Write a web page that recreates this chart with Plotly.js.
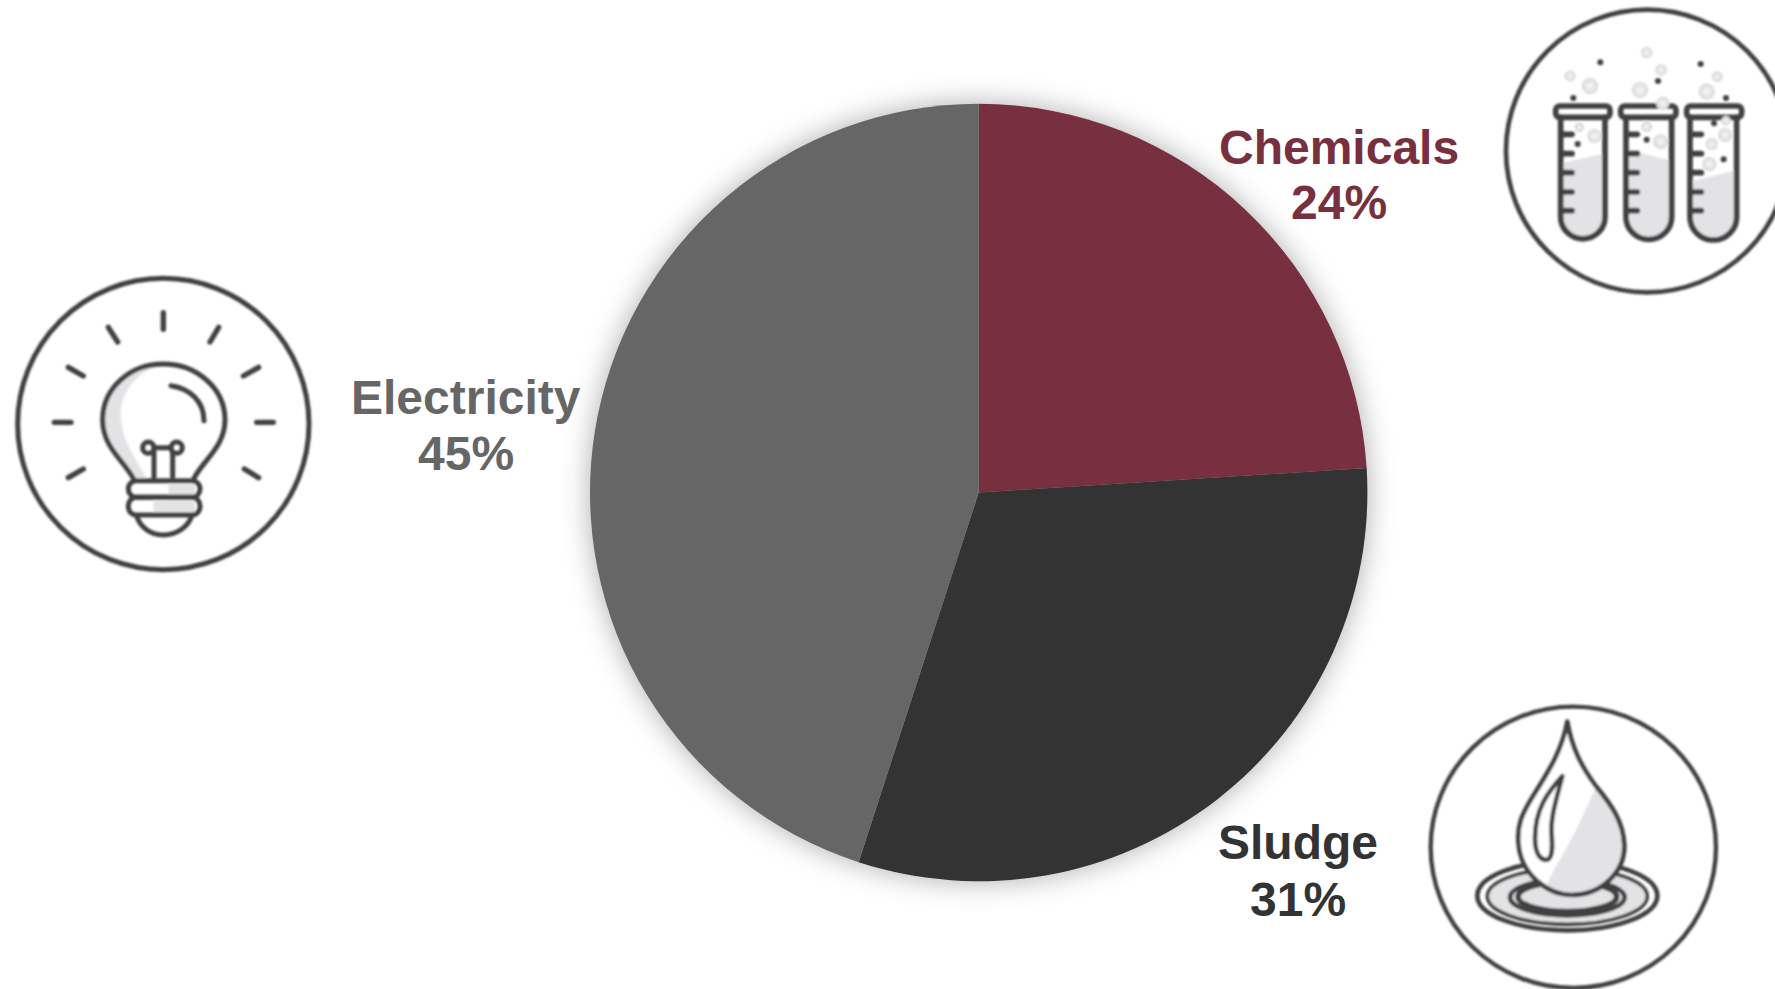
<!DOCTYPE html>
<html>
<head>
<meta charset="utf-8">
<script src="https://cdn.plot.ly/plotly-3.0.1.min.js"></script>
<style>
html, body { margin: 0; padding: 0; background: #fff; overflow: hidden; }
#chart { width: 1775px; height: 989px; }
.pielayer { filter: drop-shadow(0 0 14px rgba(0,0,0,0.32)); }
</style>
</head>
<body>
<div id="chart"></div>
<script>
// Share of treatment operating cost by category
const categories = ['Chemicals', 'Sludge', 'Electricity'];
const shares = [24, 31, 45];
const sliceColors = ['#782F40', '#333333', '#666666'];

const W = 1775, H = 989;
const px = x => x / W;
const py = y => 1 - y / H;

// Label anchors: horizontal centre and the middle of each of the two text lines
const labelCentreX = [1338.5, 1297.5, 466];
const labelNameY = [147.5, 842, 397];
const labelValueY = [203, 899, 453];

const INK = '#404040';
const TINT = '#e3e3e6';

function svgUri(w, h, body) {
  const svg = `<svg xmlns="http://www.w3.org/2000/svg" width="${w}" height="${h}" viewBox="0 0 ${w} ${h}">` +
    `<defs><filter id="s" x="-5%" y="-5%" width="110%" height="110%"><feGaussianBlur stdDeviation="2.4"/></filter></defs>` +
    `<g filter="url(#s)" fill="none" stroke="${INK}" stroke-linecap="round" stroke-linejoin="round">${body}</g></svg>`;
  return 'data:image/svg+xml;charset=utf-8,' + encodeURIComponent(svg);
}

// Light bulb icon
const rays = [[490,158,490,208],[325,202,353,246],[205,322,250,348],[163,487,213,487],[205,653,250,627],
  [656,202,630,246],[776,322,730,348],[770,487,820,487],[776,653,733,627]]
  .map(r => `<line x1="${r[0]}" y1="${r[1]}" x2="${r[2]}" y2="${r[3]}"/>`).join('');
const bulbIcon = `
  <circle cx="490" cy="492" r="437" stroke-width="15"/>
  <g stroke-width="16">${rays}</g>
  <path d="M400 655C370 600 308 560 308 480C308 385 390 312 490 312C420 330 360 390 362 470C365 540 410 600 440 655Z" fill="${TINT}" stroke="none"/>
  <path d="M505 672H585V708H505ZM460 722H585V758H460Z" fill="${TINT}" stroke="none"/>
  <g stroke-width="15">
    <path d="M400 655C370 600 308 560 308 480C308 385 390 312 490 312C590 312 675 385 675 480C675 560 610 600 582 655"/>
    <path d="M513 377C570 385 612 425 612 482"/>
    <path d="M462 650V575M518 650V575"/>
    <circle cx="445" cy="563" r="17"/><circle cx="530" cy="563" r="17"/>
    <path d="M462 563H513"/>
    <rect x="385" y="662" width="215" height="50" rx="24"/>
    <rect x="385" y="712" width="215" height="53" rx="24"/>
    <path d="M410 768C420 800 450 825 490 825C530 825 565 800 575 768"/>
  </g>`;

// Test tubes icon
function tube(lipX, lipW, left, right, fillL, fillR) {
  const r = (right - left) / 2;
  const ticks = [403, 461, 518, 576, 632].map(y => `<line x1="${left + 4}" y1="${y}" x2="${left + 34}" y2="${y}"/>`).join('');
  return `<path d="M${left} ${fillL}L${right} ${fillR}V650A${r} ${r} 0 0 1 ${left} 650Z" fill="${TINT}" stroke="none"/>
    <g stroke-width="17">
      <path d="M${left} 352V650A${r} ${r} 0 0 0 ${right} 650V352"/>
      <rect x="${lipX}" y="318" width="${lipW}" height="34" rx="12"/>
      ${ticks}
    </g>`;
}
const bubbles = [[240,228,14],[300,258,22],[470,158,15],[513,210,15],[450,270,22],[518,310,18],[650,275,22],[682,230,14],
  [268,382,12],[313,408,19],[470,380,14],[512,425,20],[705,405,19],[665,432,16],[658,492,19],[708,362,12]]
  .map(b => `<circle cx="${b[0]}" cy="${b[1]}" r="${b[2]}" fill="#e6e6e8" stroke="#d8d8da" stroke-width="5" stroke-dasharray="6 5"/><circle cx="${b[0]}" cy="${b[1]}" r="${b[2] * 0.35}" fill="#f4f4f5" stroke="none"/>`).join('');
const dots = [[250,294],[331,187],[263,432],[504,243],[470,419],[632,192],[708,294],[672,370],[701,478]]
  .map(d => `<circle cx="${d[0]}" cy="${d[1]}" r="9" fill="${INK}" stroke="none"/>`).join('');
const tubesIcon = `
  <circle cx="472" cy="453" r="424" stroke-width="14"/>
  ${tube(197, 163, 212, 345, 490, 460)}
  ${tube(392, 166, 408, 545, 448, 482)}
  ${tube(590, 165, 600, 740, 545, 510)}
  ${bubbles}
  ${dots}`;

// Water drop icon
const dropIcon = `
  <ellipse cx="475" cy="457" rx="428" ry="422" stroke-width="13"/>
  <ellipse cx="457" cy="600" rx="246" ry="88" fill="${TINT}" stroke="none"/>
  <g stroke-width="14">
    <ellipse cx="457" cy="602" rx="270" ry="104"/>
    <ellipse cx="457" cy="604" rx="240" ry="84" stroke-width="11"/>
    <ellipse cx="457" cy="607" rx="172" ry="54"/>
    <ellipse cx="457" cy="605" rx="148" ry="45" stroke-width="17"/>
  </g>
  <path d="M457 80C440 170 400 230 350 310C320 360 307 390 310 440C315 540 400 600 470 600C560 600 630 530 628 450C625 380 590 330 540 270C500 215 470 160 457 80Z" fill="#fff" stroke="none"/>
  <path d="M540 280C590 335 625 380 628 450C630 530 560 597 470 597C440 597 415 585 395 570C420 510 470 450 540 280Z" fill="${TINT}" stroke="none"/>
  <g stroke-width="14">
    <path d="M457 80C440 170 400 230 350 310C320 360 307 390 310 440C315 540 400 600 470 600C560 600 630 530 628 450C625 380 590 330 540 270C500 215 470 160 457 80Z"/>
    <path d="M442 243C400 290 360 340 360 430C360 475 375 495 395 495C415 490 412 450 410 420C405 370 425 310 442 243Z"/>
  </g>`;

function iconImage(left, top, w, h, body) {
  return {
    source: svgUri(w * 3, h * 3, body),
    xref: 'paper', yref: 'paper', x: px(left), y: py(top),
    sizex: w / W, sizey: h / H, sizing: 'stretch',
    xanchor: 'left', yanchor: 'top', layer: 'above'
  };
}

const annotations = [];
categories.forEach((name, i) => {
  const font = { family: '"Liberation Sans", Arial, sans-serif', size: 48, color: sliceColors[i], weight: 700 };
  annotations.push(
    { text: `<b>${name}</b>`, xref: 'paper', yref: 'paper', x: px(labelCentreX[i]), y: py(labelNameY[i]), xanchor: 'center', yanchor: 'middle', showarrow: false, font },
    { text: `<b>${shares[i]}%</b>`, xref: 'paper', yref: 'paper', x: px(labelCentreX[i]), y: py(labelValueY[i]), xanchor: 'center', yanchor: 'middle', showarrow: false, font }
  );
});

const pieCx = 978.7, pieCy = 492.5, pieR = 388.7;

Plotly.newPlot('chart', [{
  type: 'pie',
  labels: categories,
  values: shares,
  sort: false,
  direction: 'clockwise',
  rotation: 0,
  textinfo: 'none',
  marker: { colors: sliceColors, line: { width: 0 } },
  domain: {
    x: [px(pieCx - pieR), px(pieCx + pieR)],
    y: [py(pieCy + pieR), py(pieCy - pieR)]
  }
}], {
  width: W,
  height: H,
  margin: { l: 0, r: 0, t: 0, b: 0 },
  paper_bgcolor: '#ffffff',
  showlegend: false,
  annotations,
  images: [
    iconImage(0, 260, 330, 320, bulbIcon),
    iconImage(1490, 0, 285, 300, tubesIcon),
    iconImage(1415, 695, 310, 294, dropIcon)
  ]
}, { displayModeBar: false, staticPlot: true });
</script>
</body>
</html>
